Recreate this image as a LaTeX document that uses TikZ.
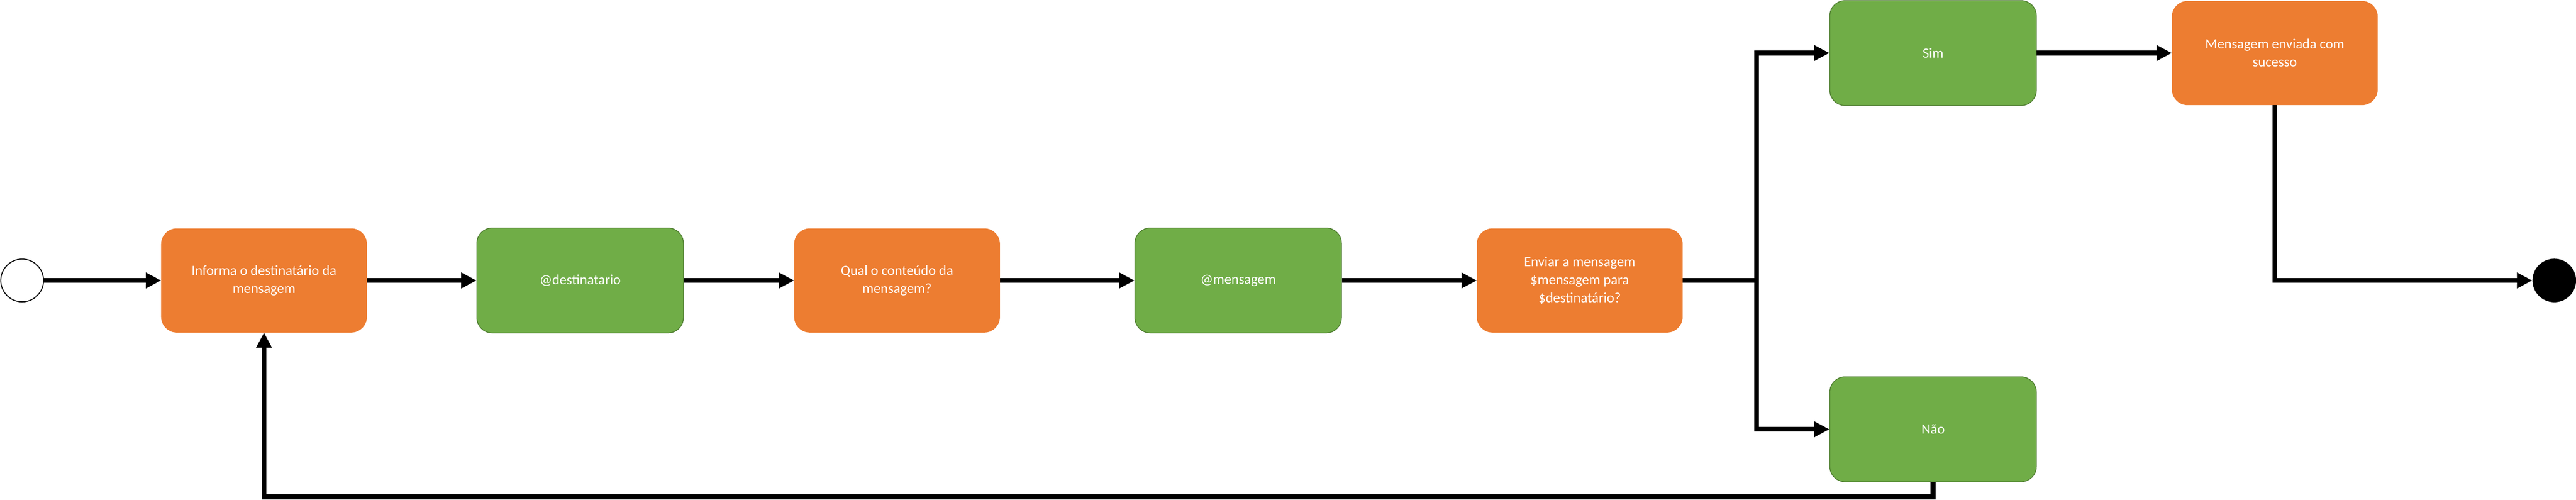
\documentclass[tikz,border=0pt]{standalone}
\usepackage{fontspec}
\setmainfont{Carlito}
\usetikzlibrary{arrows.meta,positioning}

\definecolor{laranja}{HTML}{ED7D31}
\definecolor{verde}{HTML}{70AD47}
\definecolor{verdeborda}{HTML}{507E32}

\begin{document}
\begin{tikzpicture}[every node/.style={font=\fontsize{10.5}{13.4}\selectfont, text=white, align=center},
    acao/.style={rectangle, rounded corners=0.4cm, fill=laranja, draw=laranja, line width=0.02cm, minimum width=5.37cm, minimum height=2.71cm, inner sep=0pt},
    dado/.style={rectangle, rounded corners=0.4cm, fill=verde, draw=verdeborda, line width=0.02cm, minimum width=5.41cm, minimum height=2.75cm, inner sep=0pt},
    seta/.style={line width=0.125cm, -{Triangle[length=0.4cm, width=0.39cm]}}]
            \useasboundingbox (0,0) rectangle (67.47,-13.09);
            \node[circle, draw=black, fill=white, line width=0.7pt, minimum size=1.12cm, inner sep=0pt] (inicio) at (0.58,-7.35) {};
            \node[acao] (informa) at (6.915,-7.35) {Informa o destinatário da\\mensagem};
            \node[dado] (dest) at (15.195,-7.35) {@destinatario};
            \node[acao] (conteudo) at (23.495,-7.35) {Qual o conteúdo da\\mensagem?};
            \node[dado] (msg) at (32.43,-7.35) {@mensagem};
            \node[acao] (enviar) at (41.375,-7.35) {Enviar a mensagem\\\$mensagem para\\\$destinatário?};
            \node[dado] (sim) at (50.63,-1.39) {Sim};
            \node[dado] (nao) at (50.63,-11.25) {Não};
            \node[acao] (sucesso) at (59.58,-1.39) {Mensagem enviada com\\sucesso};
            \node[circle, fill=black, minimum size=1.14cm, inner sep=0pt] (fim) at (66.90,-7.35) {};
            \coordinate (ramo) at (46.01,-7.35);
            \coordinate (volta) at (50.63,-13.02);
            % fluxo principal
            \draw[seta] (inicio) -- (informa);
            \draw[seta] (informa) -- (dest);
            \draw[seta] (dest) -- (conteudo);
            \draw[seta] (conteudo) -- (msg);
            \draw[seta] (msg) -- (enviar);
            \draw[line width=0.125cm] (enviar) -- (ramo);
            \draw[seta] (ramo) |- (sim);
            \draw[seta] (ramo) |- (nao);
            \draw[seta] (sim) -- (sucesso);
            \draw[seta] (sucesso) |- (fim);
            \draw[seta] (nao) -- (volta) -| (informa);
        \end{tikzpicture}
\end{document}
